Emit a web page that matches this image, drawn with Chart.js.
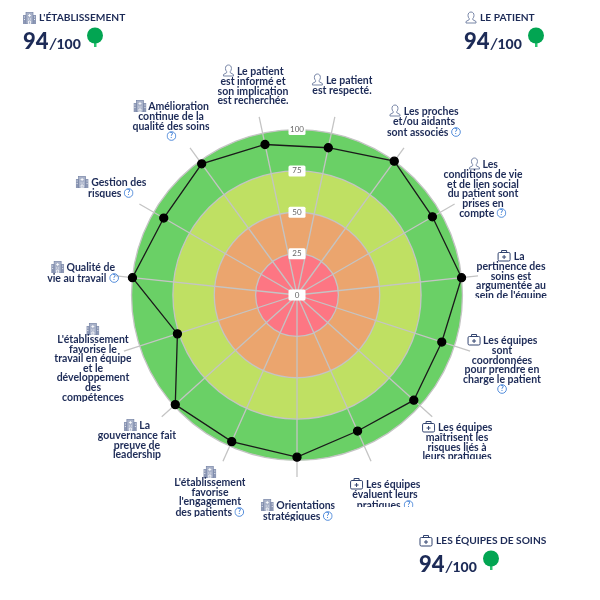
<!DOCTYPE html>
<html>
<head>
<meta charset="utf-8">
<script src="https://cdn.jsdelivr.net/npm/chart.js@4"></script>
<style>
  html, body { margin: 0; padding: 0; background: #fff; }
  #wrap { position: relative; width: 600px; height: 600px; overflow: hidden; font-family: Lato, "Noto Sans", sans-serif; color: #1d2b57; }
  #myChart { position: absolute; left: 0; top: 0; }
  .lbl { position: absolute; transform: translateX(-50%); text-align: center; font-size: 10.5px; font-weight: 700; line-height: 9.6px; white-space: nowrap; overflow: hidden; padding-top: 1px; }
  .lbl svg { vertical-align: -2px; }
  .lbl .first { display: block; line-height: 12px; }
  .head { position: absolute; font-size: 10.2px; font-weight: 700; white-space: nowrap; }
  .head svg { vertical-align: -3px; margin-right: 3px; }
  .score { position: absolute; font-weight: 900; font-size: 22px; white-space: nowrap; line-height: 22px; }
  .score small { font-size: 14px; font-weight: 900; }
  .score i { font-size: 16px; font-weight: 700; margin: 0 0 0 1px; }
  .tree { position: absolute; }
</style>
</head>
<body>
<div id="wrap">
  <canvas id="myChart" width="600" height="600"></canvas>
</div>
<script>
// chart data
const categories = [
    'Le patient est respecté.',
    'Les proches et/ou aidants sont associés',
    'Les conditions de vie et de lien social du patient sont prises en compte',
    'La pertinence des soins est argumentée au sein de l\'équipe',
    'Les équipes sont coordonnées pour prendre en charge le patient',
    'Les équipes maîtrisent les risques liés à leurs pratiques',
    'Les équipes évaluent leurs pratiques',
    'Orientations stratégiques',
    'L\'établissement favorise l\'engagement des patients',
    'La gouvernance fait preuve de leadership',
    'L\'établissement favorise le travail en équipe et le développement des compétences',
    'Qualité de vie au travail',
    'Gestion des risques',
    'Amélioration continue de la qualité des soins',
    'Le patient est informé et son implication est recherchée.'
];
const scores = [91, 100, 94.5, 100, 92, 95, 90, 98, 97, 99, 76, 100, 93, 98, 93];
const tickValues = [0, 25, 50, 75, 100];
const bandLimits = [100, 75, 50, 25];
const bandColors = ['#6ad066', '#bfe063', '#eba56e', '#fd7683'];

// label text, split the way it wraps in the picture
const labelLines = [
    ['Le patient', 'est respecté.'],
    ['Les proches', 'et/ou aidants', 'sont associés'],
    ['Les', 'conditions de vie', 'et de lien social', 'du patient sont', 'prises en', 'compte'],
    ['La', 'pertinence des', 'soins est', 'argumentée au', 'sein de l\'équipe'],
    ['Les équipes', 'sont', 'coordonnées', 'pour prendre en', 'charge le patient', ''],
    ['Les équipes', 'maîtrisent les', 'risques liés à', 'leurs pratiques'],
    ['Les équipes', 'évaluent leurs', 'pratiques'],
    ['Orientations', 'stratégiques'],
    ['', 'L\'établissement', 'favorise', 'l\'engagement', 'des patients'],
    ['La', 'gouvernance fait', 'preuve de', 'leadership'],
    ['', 'L\'établissement', 'favorise le', 'travail en équipe', 'et le', 'développement', 'des', 'compétences'],
    ['Qualité de', 'vie au travail'],
    ['Gestion des', 'risques'],
    ['Amélioration', 'continue de la', 'qualité des soins', ''],
    ['Le patient', 'est informé et', 'son implication', 'est recherchée.']
];
const labelIcons = ['user', 'user', 'user', 'kit', 'kit', 'kit', 'kit', 'org', 'org', 'org', 'org', 'org', 'org', 'org', 'user'];
const labelHelp = [false, true, true, false, true, false, true, true, true, false, false, true, true, true, false];

// [center x, top y, max height] of each label box
const labelBoxes = [
    [342, 72, 30], [424, 103, 40], [483, 156, 70], [511, 248, 49], [502, 332, 70],
    [457, 419, 39], [385, 476, 30], [298, 498, 30], [210, 465, 60], [137, 418, 50],
    [93, 322, 90], [83, 260, 30], [111, 175, 30], [171, 99, 50], [253, 63, 50]
];

const summaries = [
    { title: 'L\'ÉTABLISSEMENT', icon: 'org', score: 94, max: 100 },
    { title: 'LE PATIENT', icon: 'user', score: 94, max: 100 },
    { title: 'LES ÉQUIPES DE SOINS', icon: 'kit', score: 94, max: 100 }
];
const summaryBoxes = [[23, 11, 23, 30, 95], [465, 11, 464, 30, 536], [419, 534, 419, 553, 491]];

const icons = {
    org: '<svg width="13" height="12" viewBox="0 0 13 12"><rect x="0" y="3" width="13" height="9" fill="#8d98b5"/><rect x="3" y="0.5" width="7" height="11.5" fill="#a9b2c9" stroke="#7785a6" stroke-width=".7"/><path d="M1 5h1M1 7.500h1M11 5h1M11 7.500h1M5 3.500h3M6.500 2v3M5 7h1M7 7h1M5.500 9h2v3h-2z" stroke="#fff" stroke-width=".8" fill="none"/></svg>',
    user: '<svg width="12" height="13" viewBox="0 0 12 13"><path d="M6 1c-2 0-3 1.500-3 3.500 0 1.300.5 2.300 1.200 3l0 1.200L1 10.500V12h10v-1.500L7.800 8.700V7.500C8.500 6.800 9 5.800 9 4.500 9 2.500 8 1 6 1z" fill="none" stroke="#7785a6" stroke-width="1"/></svg>',
    kit: '<svg width="14" height="13" viewBox="0 0 14 13"><rect x="1" y="3.500" width="12" height="8.500" rx="1.300" fill="none" stroke="#31436f" stroke-width="1"/><path d="M4.500 3.500V1.500h5v2M7 6v4M5 8h4" fill="none" stroke="#31436f" stroke-width="1"/></svg>'
};
const helpIcon = '<svg width="10" height="10" viewBox="0 0 9 9" style="vertical-align:-1.500px"><circle cx="4.500" cy="4.500" r="3.900" fill="none" stroke="#3f7fd6" stroke-width=".8"/><text x="4.500" y="6.700" font-size="6.500" font-weight="700" text-anchor="middle" fill="#3f7fd6">?</text></svg>';
const treeIcon = '<svg width="18" height="20" viewBox="0 0 18 20"><rect x="8" y="12" width="2.500" height="8" fill="#28c36f"/><circle cx="9" cy="8.500" r="8" fill="#02a552"/></svg>';

const wrap = document.querySelector('#wrap');

function createLabels() {
    labelLines.forEach((lines, i) => {
        const box = labelBoxes[i];
        const el = document.createElement('div');
        el.className = 'lbl';
        el.style.left = box[0] + 'px';
        el.style.top = box[1] + 'px';
        el.style.maxHeight = box[2] + 'px';
        const html = lines.map((line, n) => {
            let text = line;
            if (n === 0) text = icons[labelIcons[i]] + (line ? ' ' + line : '');
            if (n === lines.length - 1 && labelHelp[i]) text += (line ? ' ' : '') + helpIcon;
            return `<span class="${n === 0 ? 'first' : ''}" style="display:block">${text}</span>`;
        });
        el.innerHTML = html.join('');
        wrap.appendChild(el);
    });
}

function createSummaries() {
    summaries.forEach((item, i) => {
        const box = summaryBoxes[i];
        const head = document.createElement('div');
        head.className = 'head';
        head.style.left = box[0] + 'px';
        head.style.top = box[1] + 'px';
        head.innerHTML = `${icons[item.icon]}${item.title}`;
        wrap.appendChild(head);

        const score = document.createElement('div');
        score.className = 'score';
        score.style.left = box[2] + 'px';
        score.style.top = box[3] + 'px';
        score.innerHTML = `${item.score}<i>/</i><small>${item.max}</small>`;
        wrap.appendChild(score);

        const tree = document.createElement('div');
        tree.className = 'tree';
        tree.style.left = (box[4] - 9) + 'px';
        tree.style.top = (box[3] - 3) + 'px';
        tree.innerHTML = treeIcon;
        wrap.appendChild(tree);
    });
}

// coloured rings under the grid, tick boxes over everything
const ringsPlugin = {
    id: 'rings',
    beforeDraw(chart) {
        const r = chart.scales.r;
        const c = chart.ctx;
        bandLimits.forEach((limit, i) => {
            c.beginPath();
            c.arc(r.xCenter, r.yCenter, r.getDistanceFromCenterForValue(limit), 0, Math.PI * 2);
            c.fillStyle = bandColors[i];
            c.fill();
        });
    },
    afterDatasetsDraw(chart) {
        const r = chart.scales.r;
        const c = chart.ctx;
        c.save();
        c.font = '8px Lato, sans-serif';
        c.textAlign = 'center';
        c.textBaseline = 'middle';
        tickValues.forEach(value => {
            const y = r.yCenter - r.getDistanceFromCenterForValue(value);
            c.fillStyle = '#fff';
            c.beginPath();
            c.roundRect(r.xCenter - 8.5, y - 5.5, 17, 11, 1.5);
            c.fill();
            c.fillStyle = '#666';
            c.fillText(String(value), r.xCenter, y);
        });
        c.restore();
    }
};

const ctx = document.getElementById('myChart').getContext('2d');

new Chart(ctx, {
    type: 'radar',
    data: {
        labels: categories,
        datasets: [{
            label: 'Score',
            data: scores,
            borderColor: '#1a1a1a',
            borderWidth: 1.3,
            backgroundColor: 'transparent',
            pointBackgroundColor: '#000',
            pointBorderColor: '#000',
            pointRadius: 4,
            fill: false,
            tension: 0
        }]
    },
    options: {
        responsive: false,
        animation: false,
        layout: { padding: { left: 115, right: 121, top: 113, bottom: 123 } },
        plugins: { legend: { display: false }, tooltip: { enabled: false } },
        scales: {
            r: {
                startAngle: 12,
                min: 0,
                max: 110,
                afterBuildTicks(scale) {
                    scale.ticks = tickValues.map(value => ({ value }));
                },
                ticks: { display: false, stepSize: 25 },
                pointLabels: { display: false },
                grid: { circular: true, color: '#c4c4c4', lineWidth: 1.3 },
                angleLines: { color: '#c4c4c4', lineWidth: 1.3 }
            }
        }
    },
    plugins: [ringsPlugin]
});

createLabels();
createSummaries();
</script>
</body>
</html>
